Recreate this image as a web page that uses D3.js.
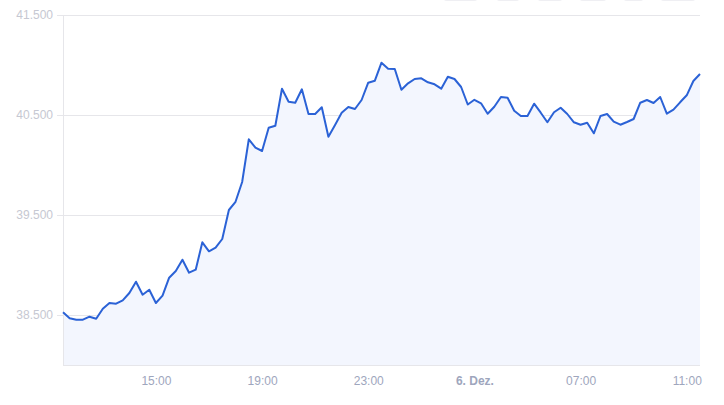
<!DOCTYPE html>
<html>
<head>
<meta charset="utf-8">
<script src="https://cdn.jsdelivr.net/npm/d3@7"></script>
<style>
  body { margin: 0; background: #fff; }
  svg { display: block; font-family: "Liberation Sans", Arial, sans-serif; }
</style>
</head>
<body>
<script>
// Kurs alle 15 Minuten, 5. Dez. 11:30 bis 6. Dez. 11:30
const prices = [
  38527, 38467, 38453, 38453, 38483, 38463, 38563, 38620, 38613, 38647,
  38720, 38833, 38703, 38753, 38620, 38693, 38873, 38940, 39053, 38923,
  38953, 39227, 39137, 39173, 39260, 39550, 39632, 39830, 40257, 40173,
  40140, 40373, 40393, 40763, 40633, 40623, 40757, 40510, 40510, 40577,
  40283, 40400, 40523, 40580, 40560, 40650, 40823, 40843, 41023, 40963,
  40960, 40753, 40817, 40860, 40867, 40827, 40807, 40763, 40883, 40860,
  40780, 40605, 40652, 40617, 40513, 40583, 40680, 40673, 40543, 40490,
  40490, 40613, 40523, 40427, 40527, 40573, 40510, 40427, 40403, 40423,
  40317, 40490, 40510, 40433, 40403, 40430, 40460, 40623, 40650, 40620,
  40680, 40513, 40553, 40627, 40697, 40840, 40910
];
const startTime = new Date(2023, 11, 5, 11, 30);
const stepMinutes = 15;

const yTicks = [38500, 39500, 40500, 41500];
const xTickTimes = [
  new Date(2023, 11, 5, 15), new Date(2023, 11, 5, 19), new Date(2023, 11, 5, 23),
  new Date(2023, 11, 6, 3), new Date(2023, 11, 6, 7), new Date(2023, 11, 6, 11)
];
const xTickLabels = ["15:00", "19:00", "23:00", "6. Dez.", "07:00", "11:00"];

const data = prices.map((v, i) => ({
  t: new Date(startTime.getTime() + i * stepMinutes * 60000),
  v: v
}));

const W = 724, H = 405;
const plotLeft = 63, plotRight = 700, plotTop = 15, plotBottom = 365;

const svg = d3.select("body").append("svg")
  .attr("width", W)
  .attr("height", H);

// abgeschnittene Buttons oben rechts
const buttons = [[443, 478], [496, 520], [537, 563], [579, 607], [623, 644], [660, 696]];
svg.selectAll("rect.btn")
  .data(buttons)
  .enter()
  .append("rect")
  .attr("class", "btn")
  .attr("x", d => d[0])
  .attr("y", -20)
  .attr("width", d => d[1] - d[0])
  .attr("height", 21)
  .attr("rx", 4)
  .attr("fill", "#efeff3");

const x = d3.scaleTime()
  .domain([data[0].t, data[data.length - 1].t])
  .range([plotLeft, plotRight]);

const y = d3.scaleLinear()
  .domain([38000, 41500])
  .range([plotBottom, plotTop]);

// Gitterlinien
svg.append("g")
  .attr("transform", `translate(${plotLeft},0)`)
  .call(d3.axisLeft(y)
    .tickValues(yTicks)
    .tickSize(-(plotRight - plotLeft))
    .tickFormat(""))
  .call(g => g.select(".domain").remove())
  .call(g => g.selectAll("line").attr("stroke", "#e6e6ea").attr("stroke-width", 1));

// Fläche
const area = d3.area()
  .x(d => x(d.t))
  .y0(y(38000))
  .y1(d => y(d.v));

svg.append("path")
  .datum(data)
  .attr("d", area)
  .attr("fill", "#f3f6fe");

// Y-Achse
svg.append("g")
  .attr("transform", `translate(${plotLeft},0)`)
  .call(d3.axisLeft(y)
    .tickValues(yTicks)
    .tickSize(6)
    .tickPadding(4)
    .tickFormat(d => d3.format(",")(d).replace(",", ".")))
  .call(g => g.select(".domain").attr("d", `M0.5,${plotTop}V${plotBottom}`).attr("stroke", "#e6e6ea"))
  .call(g => g.selectAll("line").attr("stroke", "#e6e6ea"))
  .call(g => g.selectAll("text")
    .attr("fill", "#c6c8d2")
    .attr("font-size", 12)
    .attr("font-family", "Liberation Sans, Arial, sans-serif"));

// X-Achse
svg.append("g")
  .attr("transform", `translate(0,${plotBottom})`)
  .call(d3.axisBottom(x)
    .tickValues(xTickTimes)
    .tickSize(0)
    .tickPadding(11)
    .tickFormat((d, i) => xTickLabels[i]))
  .call(g => g.select(".domain").attr("d", `M${plotLeft},0.5H${plotRight}`).attr("stroke", "#e6e6ea"))
  .call(g => g.selectAll("text")
    .attr("fill", "#9ea6bd")
    .attr("font-size", 12)
    .attr("font-family", "Liberation Sans, Arial, sans-serif")
    .attr("font-weight", (d, i) => xTickLabels[i] === "6. Dez." ? "bold" : "normal"));

// Kurslinie
const line = d3.line()
  .x(d => x(d.t))
  .y(d => y(d.v));

svg.append("path")
  .datum(data)
  .attr("d", line)
  .attr("fill", "none")
  .attr("stroke", "#2b62d6")
  .attr("stroke-width", 2)
  .attr("stroke-linejoin", "round");
</script>
</body>
</html>
